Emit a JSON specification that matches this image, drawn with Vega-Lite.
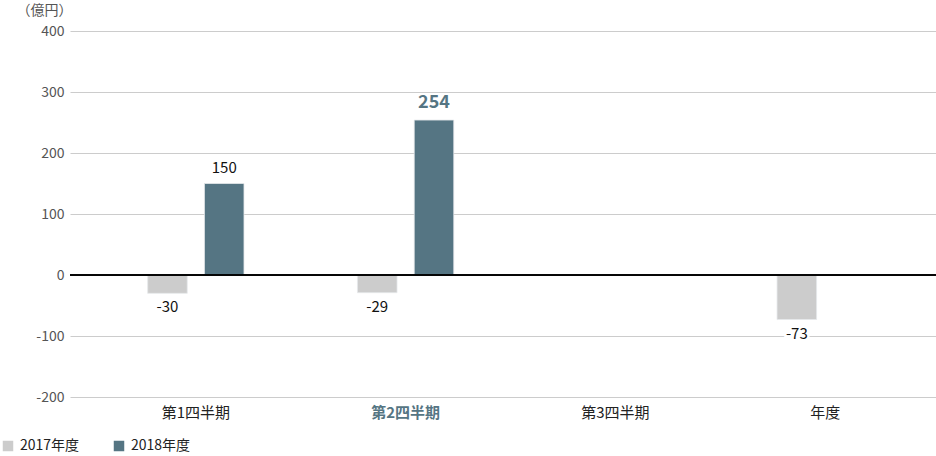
{
  "$schema": "https://vega.github.io/schema/vega-lite/v6.json",
  "width": 866,
  "height": 366,
  "autosize": {"type": "none"},
  "padding": {"left": 70, "top": 31, "right": 0, "bottom": 59},
  "background": "white",
  "config": {
    "view": {"stroke": null},
    "font": "Noto Sans CJK JP"
  },
  "data": {
    "values": [
      {"quarter": "第1四半期", "year": "2017年度", "value": -30},
      {"quarter": "第1四半期", "year": "2018年度", "value": 150},
      {"quarter": "第2四半期", "year": "2017年度", "value": -29},
      {"quarter": "第2四半期", "year": "2018年度", "value": 254},
      {"quarter": "年度", "year": "2017年度", "value": -73}
    ]
  },
  "transform": [{"calculate": "'' + datum.value", "as": "label"}],
  "encoding": {
    "x": {
      "field": "quarter",
      "type": "nominal",
      "sort": ["第1四半期", "第2四半期", "第3四半期", "年度"],
      "scale": {
        "domain": ["第1四半期", "第2四半期", "第3四半期", "年度"],
        "paddingInner": 0,
        "paddingOuter": 0.064,
        "align": 0.78
      },
      "axis": {
        "title": null,
        "domain": false,
        "ticks": false,
        "labelAngle": 0,
        "labelPadding": 8,
        "labelFontSize": 15,
        "labelColor": {"expr": "datum.value == '第2四半期' ? '#557583' : '#222222'"},
        "labelFontWeight": {"expr": "datum.value == '第2四半期' ? 'bold' : 'normal'"}
      }
    },
    "xOffset": {
      "field": "year",
      "type": "nominal",
      "scale": {"domain": ["2017年度", "2018年度"], "paddingInner": 0.303, "paddingOuter": 1.075}
    },
    "y": {
      "field": "value",
      "type": "quantitative",
      "scale": {"domain": [-200, 400], "nice": false},
      "axis": {
        "values": [-200, -100, 0, 100, 200, 300, 400],
        "labelExpr": "'' + datum.value",
        "title": "（億円）",
        "titleAngle": 0,
        "titleAlign": "left",
        "titleBaseline": "middle",
        "titleX": -54,
        "titleY": -21,
        "titleFontSize": 14,
        "titleFontWeight": "normal",
        "titleColor": "#555555",
        "domain": false,
        "ticks": false,
        "labelPadding": 6,
        "labelFontSize": 14,
        "labelColor": "#555555",
        "gridColor": "#cccccc",
        "gridWidth": 1
      }
    }
  },
  "layer": [
    {
      "mark": {"type": "bar", "stroke": "#e6e9eb", "strokeWidth": 0.8},
      "encoding": {
        "color": {
          "field": "year",
          "type": "nominal",
          "scale": {"domain": ["2017年度", "2018年度"], "range": ["#cccccc", "#557583"]},
          "legend": {
            "title": null,
            "orient": "none",
            "direction": "horizontal",
            "legendX": -69,
            "legendY": 408,
            "symbolType": "square",
            "symbolSize": 110,
            "symbolStrokeWidth": 0,
            "labelFontSize": 14,
            "labelColor": "#222222",
            "labelOffset": 5,
            "columnPadding": 32
          }
        }
      }
    },
    {
      "mark": {"type": "rule", "color": "#000000", "strokeWidth": 1.2},
      "encoding": {"y": {"datum": 0}, "x": null, "xOffset": null}
    },
    {
      "transform": [{"filter": "datum.value < 0"}],
      "mark": {"type": "text", "baseline": "top", "dy": 7, "fontSize": 15, "stroke": "white", "strokeWidth": 5, "fill": "white"},
      "encoding": {"text": {"field": "label", "type": "nominal"}}
    },
    {
      "transform": [{"filter": "datum.value < 0"}],
      "mark": {"type": "text", "baseline": "top", "dy": 7, "fontSize": 15, "color": "#111111"},
      "encoding": {"text": {"field": "label", "type": "nominal"}}
    },
    {
      "transform": [{"filter": "datum.value >= 0 && datum.quarter != '第2四半期'"}],
      "mark": {"type": "text", "baseline": "bottom", "dy": -8, "fontSize": 15, "color": "#111111"},
      "encoding": {"text": {"field": "label", "type": "nominal"}}
    },
    {
      "transform": [{"filter": "datum.value >= 0 && datum.quarter == '第2四半期'"}],
      "mark": {"type": "text", "baseline": "bottom", "dy": -8, "fontSize": 18, "fontWeight": "bold", "color": "#557583"},
      "encoding": {"text": {"field": "label", "type": "nominal"}}
    }
  ]
}
